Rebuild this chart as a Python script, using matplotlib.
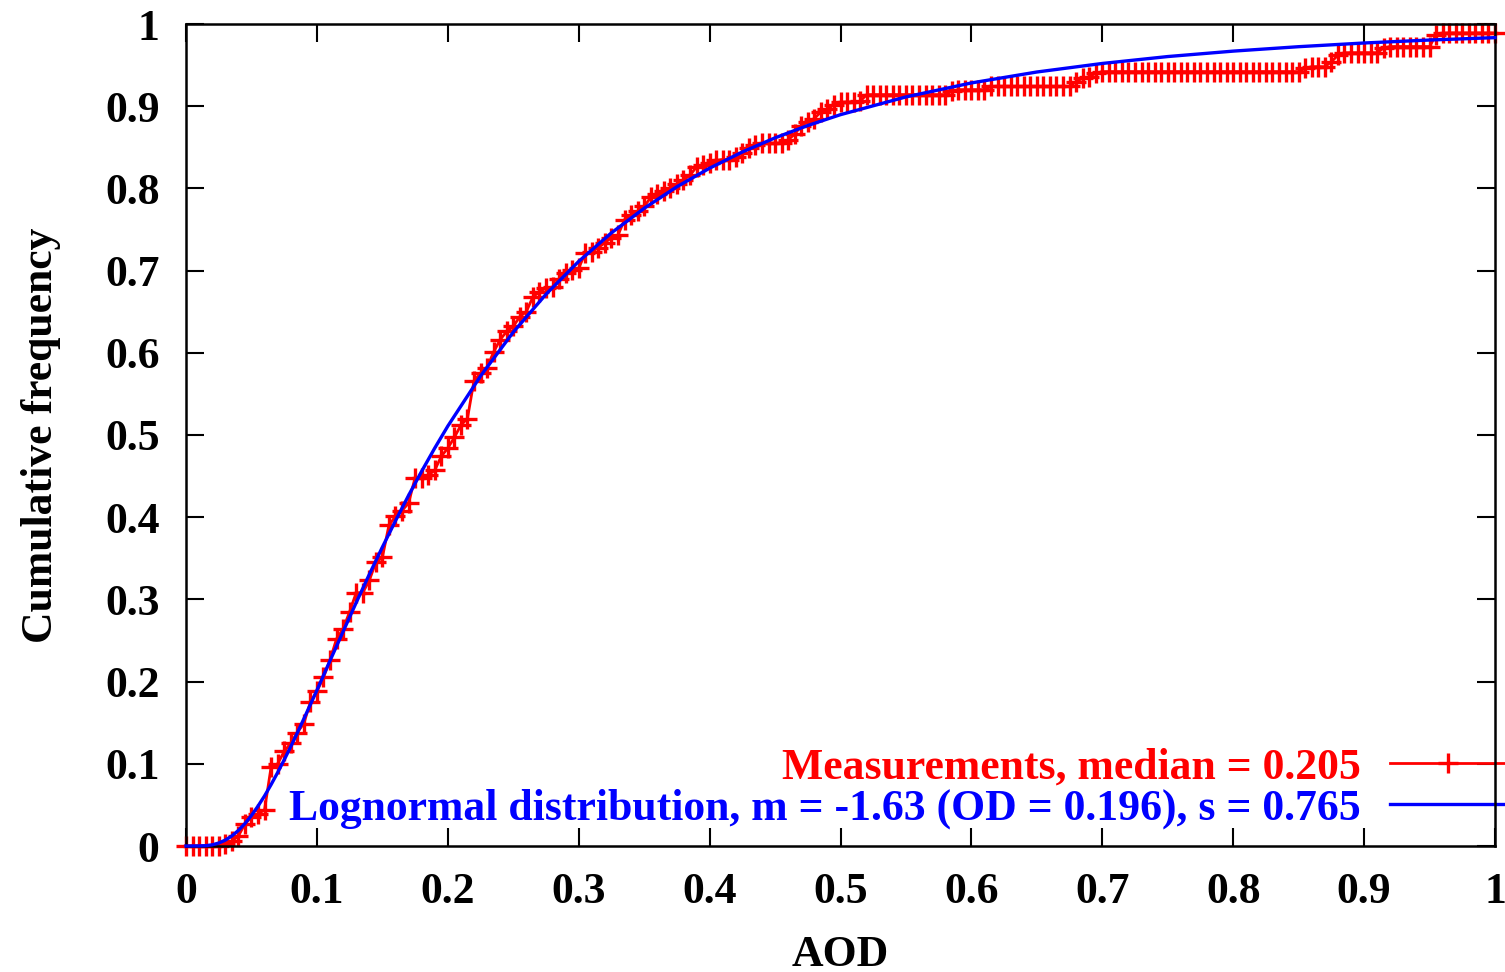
import numpy as np
import matplotlib
matplotlib.use("Agg")
import matplotlib.pyplot as plt

# ---------------- data ----------------
aod_step = 0.005  # measurement CDF evaluated on a regular AOD grid 0..1
meas_cum = [
    0, 0, 0, 0, 0, 0, 0.002, 0.006, 0.012, 0.027,
    0.035, 0.039, 0.044, 0.096, 0.100, 0.115, 0.125, 0.138, 0.149, 0.175,
    0.188, 0.205, 0.226, 0.252, 0.264, 0.285, 0.308, 0.308, 0.323, 0.345,
    0.351, 0.390, 0.401, 0.408, 0.417, 0.448, 0.448, 0.451, 0.457, 0.474,
    0.484, 0.497, 0.512, 0.520, 0.566, 0.575, 0.582, 0.601, 0.616, 0.626,
    0.632, 0.644, 0.650, 0.668, 0.674, 0.679, 0.680, 0.690, 0.697, 0.701,
    0.703, 0.721, 0.723, 0.728, 0.734, 0.740, 0.743, 0.762, 0.768, 0.772,
    0.778, 0.789, 0.793, 0.797, 0.801, 0.805, 0.810, 0.816, 0.826, 0.828,
    0.831, 0.834, 0.835, 0.835, 0.838, 0.843, 0.849, 0.853, 0.855, 0.855,
    0.855, 0.855, 0.859, 0.866, 0.876, 0.881, 0.885, 0.893, 0.896, 0.902,
    0.905, 0.905, 0.905, 0.906, 0.914, 0.914, 0.914, 0.914, 0.914, 0.914,
    0.914, 0.914, 0.914, 0.914, 0.914, 0.914, 0.914, 0.918, 0.920, 0.920,
    0.920, 0.920, 0.920, 0.924, 0.924, 0.924, 0.924, 0.924, 0.924, 0.924,
    0.924, 0.924, 0.924, 0.924, 0.924, 0.924, 0.930, 0.934, 0.936, 0.940,
    0.942, 0.942, 0.942, 0.942, 0.942, 0.942, 0.942, 0.942, 0.942, 0.942,
    0.942, 0.942, 0.942, 0.942, 0.942, 0.942, 0.942, 0.942, 0.942, 0.942,
    0.942, 0.942, 0.942, 0.942, 0.942, 0.942, 0.942, 0.942, 0.942, 0.942,
    0.942, 0.946, 0.948, 0.948, 0.948, 0.954, 0.962, 0.965, 0.965, 0.965,
    0.965, 0.965, 0.965, 0.971, 0.9725, 0.9725, 0.9725, 0.9725, 0.9725, 0.9725,
    0.9725, 0.987, 0.989, 0.989, 0.989, 0.989, 0.989, 0.989, 0.989, 0.989,
    0.989,
]
aod_meas = np.round(np.arange(len(meas_cum)) * aod_step, 4)

fit_aod = [0, 0.01, 0.015, 0.02, 0.025, 0.03, 0.035, 0.04, 0.045, 0.05,
           0.055, 0.06, 0.065, 0.07, 0.075, 0.08, 0.085, 0.09, 0.095, 0.10,
           0.11, 0.12, 0.13, 0.14, 0.15, 0.16, 0.17, 0.18, 0.19, 0.20,
           0.225, 0.25, 0.275, 0.30, 0.325, 0.35, 0.375, 0.40, 0.425, 0.45,
           0.475, 0.50, 0.55, 0.60, 0.65, 0.70, 0.75, 0.80, 0.85, 0.90,
           0.95, 1.00]
fit_cum = [0, 0.0001, 0.0004, 0.0014, 0.0036, 0.0071, 0.0122, 0.0189, 0.0272, 0.0371,
           0.0485, 0.0609, 0.0747, 0.0893, 0.1048, 0.1208, 0.1375, 0.1546, 0.172, 0.1894,
           0.2254, 0.2608, 0.296, 0.3303, 0.3635, 0.3955, 0.4264, 0.4558, 0.484, 0.5108,
           0.5717, 0.6251, 0.6712, 0.7112, 0.7459, 0.7758, 0.8020, 0.8246, 0.8443, 0.8615,
           0.8765, 0.8897, 0.9113, 0.9283, 0.9416, 0.9520, 0.9604, 0.9670, 0.9724, 0.9769,
           0.9805, 0.9834]

tick_vals = [0, 0.1, 0.2, 0.3, 0.4, 0.5, 0.6, 0.7, 0.8, 0.9, 1]
tick_labels = ["0", "0.1", "0.2", "0.3", "0.4", "0.5", "0.6", "0.7", "0.8", "0.9", "1"]

meas_label = "Measurements, median = 0.205"
fit_label = "Lognormal distribution, m = -1.63 (OD = 0.196), s = 0.765"

# ---------------- style ----------------
plt.rcParams['font.family'] = ['Liberation Serif', 'DejaVu Serif']
plt.rcParams['font.weight'] = 'bold'
FS = 31.5

fig = plt.figure(figsize=(15.05, 9.72), dpi=100)
ax = fig.add_axes([186 / 1505, 1 - 846 / 972, (1495 - 186) / 1505, (846 - 24) / 972])

red_line, = ax.plot(aod_meas, meas_cum, color='#ff0000', lw=2.0, marker='+',
                    markersize=14, markeredgewidth=2.4, clip_on=False, zorder=2,
                    label=meas_label)
blue_line, = ax.plot(fit_aod, fit_cum, color='#0000ff', lw=2.4, clip_on=False,
                     zorder=3, label=fit_label)

ax.set_xlim(0, 1)
ax.set_ylim(0, 1)
ax.set_xticks(tick_vals)
ax.set_xticklabels(tick_labels)
ax.set_yticks(tick_vals)
ax.set_yticklabels(tick_labels)
ax.tick_params(axis='both', which='major', direction='in', length=13, width=1.5,
               labelsize=FS, top=True, right=True, colors='black')
ax.tick_params(axis='x', pad=19)
ax.tick_params(axis='y', pad=19)
for lab in ax.get_xticklabels() + ax.get_yticklabels():
    lab.set_fontweight('bold')
for sp in ax.spines.values():
    sp.set_linewidth(1.8)

ax.set_xlabel("AOD", fontsize=FS, fontweight='bold', labelpad=16)
ax.set_ylabel("Cumulative frequency", fontsize=FS, fontweight='bold', labelpad=32)

leg = ax.legend(handles=[red_line, blue_line], loc='lower right',
                bbox_to_anchor=(1505 / 1505, 1 - 829 / 972), bbox_transform=fig.transFigure,
                markerfirst=False, frameon=False, numpoints=1,
                handlelength=2.62, handletextpad=0.68, labelspacing=0.02,
                borderpad=0, borderaxespad=0, labelcolor='linecolor',
                prop={'weight': 'bold', 'size': FS})
leg.set_zorder(2)

fig.savefig("out.png", dpi=100, facecolor='white')
